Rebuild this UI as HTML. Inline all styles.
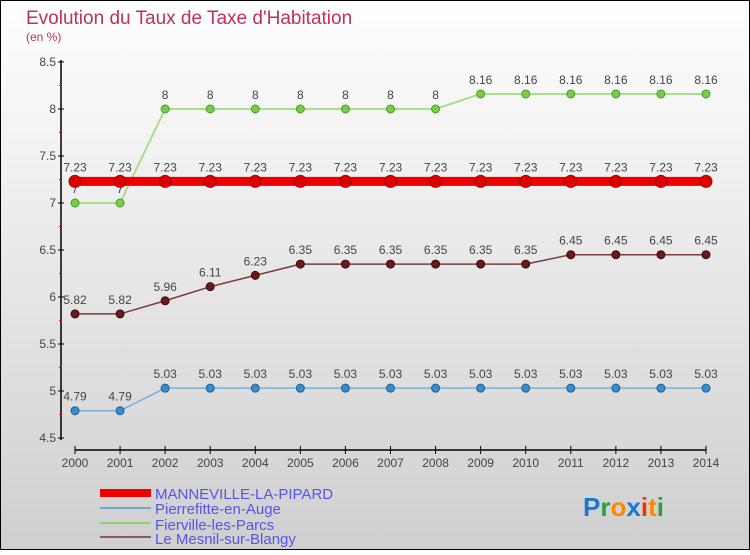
<!DOCTYPE html>
<html><head><meta charset="utf-8"><style>
html,body{margin:0;padding:0}
body{width:750px;height:550px;overflow:hidden;font-family:"Liberation Sans",sans-serif}
</style></head><body>
<svg id="chart" width="750" height="550" xmlns="http://www.w3.org/2000/svg" font-family="Liberation Sans, sans-serif">
<defs><linearGradient id="bg" x1="0" y1="0" x2="0" y2="1"><stop offset="0" stop-color="#ffffff"/><stop offset="1" stop-color="#cfcfcf"/></linearGradient></defs>
<rect x="0.5" y="0.5" width="749" height="549" fill="url(#bg)" stroke="#000"/>
<text x="26" y="24" font-size="19" fill="#c0305a">Evolution du Taux de Taxe d'Habitation</text>
<text x="26" y="41" font-size="12" fill="#c0305a">(en %)</text>
<g id="axes"></g><g id="series"></g>
<g>
<rect x="100" y="489" width="51" height="8" fill="#ee0000"/>
<text x="155" y="499" font-size="15" fill="#5555ee">MANNEVILLE-LA-PIPARD</text>
<rect x="100" y="507" width="51" height="2" fill="#6fa8cc"/>
<text x="155" y="514" font-size="15" fill="#5555ee">Pierrefitte-en-Auge</text>
<rect x="100" y="522" width="51" height="2" fill="#8ed36a"/>
<text x="155" y="530" font-size="15" fill="#5555ee">Fierville-les-Parcs</text>
<rect x="100" y="536" width="51" height="2" fill="#8a5a5a"/>
<text x="155" y="544" font-size="15" fill="#5555ee">Le Mesnil-sur-Blangy</text>
</g>
<text x="583" y="516" font-size="26" font-weight="bold"><tspan fill="#1a78d0">P</tspan><tspan fill="#2aa040">r</tspan><tspan fill="#ff8800">o</tspan><tspan fill="#1a78d0">x</tspan><tspan fill="#ee3300">i</tspan><tspan fill="#ff8800">t</tspan><tspan fill="#2aa040">i</tspan></text>
</svg>
<script>
const years=[2000,2001,2002,2003,2004,2005,2006,2007,2008,2009,2010,2011,2012,2013,2014];
const yTicks=[4.5,5,5.5,6,6.5,7,7.5,8,8.5];
const manneville=[7.23,7.23,7.23,7.23,7.23,7.23,7.23,7.23,7.23,7.23,7.23,7.23,7.23,7.23,7.23];
const pierrefitte=[4.79,4.79,5.03,5.03,5.03,5.03,5.03,5.03,5.03,5.03,5.03,5.03,5.03,5.03,5.03];
const fierville=[7,7,8,8,8,8,8,8,8,8.16,8.16,8.16,8.16,8.16,8.16];
const mesnil=[5.82,5.82,5.96,6.11,6.23,6.35,6.35,6.35,6.35,6.35,6.35,6.45,6.45,6.45,6.45];
const NS="http://www.w3.org/2000/svg";
function xs(i){return 75+i*(706-75)/(years.length-1);}
function ys(v){return 438-(v-4.5)*94;}
function mk(tag,attrs,parent){const e=document.createElementNS(NS,tag);for(const k in attrs)e.setAttribute(k,attrs[k]);parent.appendChild(e);return e;}
const ax=document.getElementById('axes');
mk('line',{x1:61,y1:60,x2:61,y2:440,stroke:'#000','stroke-width':1.5},ax);
mk('line',{x1:75,y1:450,x2:706,y2:450,stroke:'#000','stroke-width':1.5},ax);
yTicks.forEach((v,i)=>{
 const y=ys(v);
 const t=mk('line',{x1:58,y1:y,x2:64,y2:y,stroke:'#000'},ax);
 
 
 const l=mk('text',{x:56,y:y+4,'font-size':12,'text-anchor':'end',fill:'#444'},ax);
 l.textContent=String(v);
 
 
 if(i<yTicks.length-1){const m=mk('line',{x1:59,y1:ys(v+0.25),x2:62,y2:ys(v+0.25),stroke:'#e00'},ax);
 
 }
});
years.forEach((yr,i)=>{
 const x=xs(i);
 const t=mk('line',{x1:x,y1:446,x2:x,y2:454,stroke:'#000'},ax);
 
 
 const l=mk('text',{x:x,y:467,'font-size':12,'text-anchor':'middle',fill:'#444'},ax);
 l.textContent=yr;
 
 
});
const sg=document.getElementById('series');
function fmt(v){return String(v);}
function draw(data,name,lineCol,lw,ptCol,ptStroke,r){
 const g=mk('g',{},sg);
 
 
 const p=mk('polyline',{points:data.map((v,i)=>xs(i)+','+ys(v)).join(' '),fill:'none',stroke:lineCol,'stroke-width':lw},g);
 
 
 data.forEach((v,i)=>{
  const c=mk('circle',{cx:xs(i),cy:ys(v),r:r,fill:ptCol,stroke:ptStroke,'stroke-width':1},g);
  
  
  const t=mk('text',{x:xs(i),y:ys(v)-10,'font-size':12,'text-anchor':'middle',fill:'#444'},g);
  t.textContent=fmt(v);
  
  
 });
}
draw(fierville,'fierville','#a8e08a',2,'#78cc48','#4a9a2a',4);
draw(mesnil,'mesnil','#7a3a3a',1.5,'#6a1a1a','#3a0a0a',4);
draw(pierrefitte,'pierrefitte','#7ab0d8',1.5,'#3a8ccc','#1f5f90',4);
draw(manneville,'manneville','#ee0000',9,'#dd0000','#aa0000',6);
</script>
</body></html>
